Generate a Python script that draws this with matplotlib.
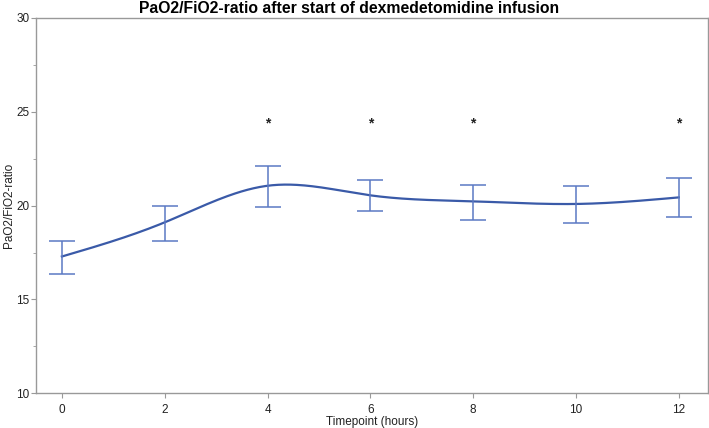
#!/usr/bin/env python3

import numpy as np
import matplotlib
matplotlib.use('Agg')
import matplotlib.pyplot as plt

# data
hours = [0, 2, 4, 6, 8, 10, 12]
ratio = [17.29, 19.11, 21.06, 20.55, 20.23, 20.09, 20.44]
err_low = [16.37, 18.10, 19.95, 19.72, 19.26, 19.06, 19.40]
err_high = [18.14, 19.98, 22.09, 21.35, 21.12, 21.06, 21.45]
signif_hours = [4, 6, 8, 12]
star_y = 24.4


# natural cubic spline through the points (no scipy here)
def natural_spline(x, y, xs):
    x = np.asarray(x, float)
    y = np.asarray(y, float)
    n = len(x)
    h = np.diff(x)
    A = np.zeros((n, n))
    r = np.zeros(n)
    A[0, 0] = 1.0
    A[-1, -1] = 1.0
    for i in range(1, n - 1):
        A[i, i - 1] = h[i - 1]
        A[i, i] = 2.0 * (h[i - 1] + h[i])
        A[i, i + 1] = h[i]
        r[i] = 6.0 * ((y[i + 1] - y[i]) / h[i] - (y[i] - y[i - 1]) / h[i - 1])
    m = np.linalg.solve(A, r)
    out = np.empty_like(xs)
    for k, t in enumerate(xs):
        i = min(np.searchsorted(x, t, side='right') - 1, n - 2)
        i = max(i, 0)
        a = x[i + 1] - t
        b = t - x[i]
        out[k] = (m[i] * a**3 + m[i + 1] * b**3) / (6 * h[i]) \
            + (y[i] / h[i] - m[i] * h[i] / 6) * a \
            + (y[i + 1] / h[i] - m[i + 1] * h[i] / 6) * b
    return out


if __name__ == '__main__':
    plt.rcParams['font.family'] = ['Liberation Sans', 'DejaVu Sans']
    fig, ax = plt.subplots(figsize=(7.09, 4.28), dpi=100)
    fig.subplots_adjust(left=0.051, right=0.998, bottom=0.081, top=0.958)

    blue = '#3a5aa8'
    xs = np.linspace(hours[0], hours[-1], 400)
    ax.plot(xs, natural_spline(hours, ratio, xs), color=blue, lw=1.6)

    yerr = [np.array(ratio) - np.array(err_low), np.array(err_high) - np.array(ratio)]
    ax.errorbar(hours, ratio, yerr=yerr, fmt='none', ecolor='#5b79c4',
                elinewidth=1.1, capsize=9.7, capthick=1.1)

    for h in signif_hours:
        ax.text(h, star_y, '*', ha='center', va='center', fontsize=10,
                fontweight='bold', color='#222222')

    ax.set_xlim(-0.5, 12.56)
    ax.set_ylim(10, 30)
    ax.set_xticks(hours)
    ax.set_yticks([10, 15, 20, 25, 30])
    ax.set_yticks([12.5, 17.5, 22.5, 27.5], minor=True)

    for s in ax.spines.values():
        s.set_color('#999999')
        s.set_linewidth(1.0)
    ax.tick_params(colors='#999999', labelcolor='#222222', labelsize=8.5,
                   length=3.5, pad=1.5)
    ax.tick_params(axis='x', pad=4)
    ax.tick_params(which='minor', colors='#999999', length=2.5)

    ax.set_xlabel('Timepoint (hours)', fontsize=8.5, color='#222222', labelpad=0)
    ax.set_ylabel('PaO2/FiO2-ratio', fontsize=8.5, color='#222222', labelpad=1)
    fig.suptitle('PaO2/FiO2-ratio after start of dexmedetomidine infusion',
                 x=0.492, y=0.997, va='top', fontsize=11.3, fontweight='bold')

    fig.savefig('out.png', dpi=100)
